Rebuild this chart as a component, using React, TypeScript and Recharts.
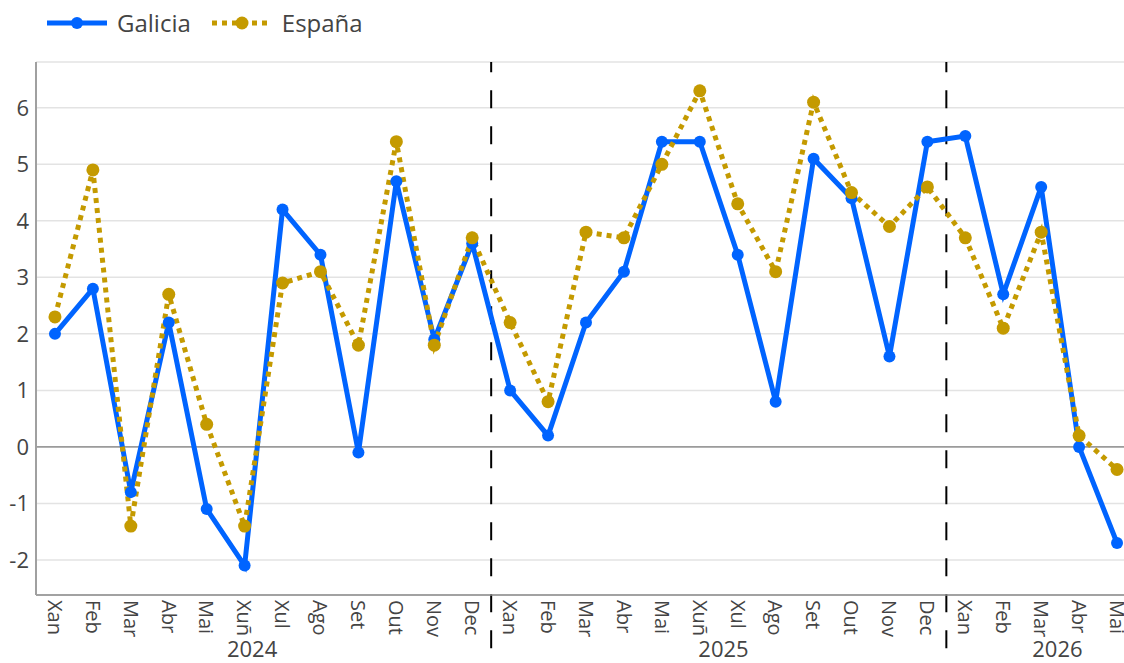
import React from 'react';
import { LineChart, Line, XAxis, YAxis, CartesianGrid, ReferenceLine, Legend } from 'recharts';

const months = ['Xan', 'Feb', 'Mar', 'Abr', 'Mai', 'Xuñ', 'Xul', 'Ago', 'Set', 'Out', 'Nov', 'Dec'];
const years = ['2024', '2025', '2026'];
const monthsPerYear = [12, 12, 5];

const galicia = [
  2.0, 2.8, -0.8, 2.2, -1.1, -2.1, 4.2, 3.4, -0.1, 4.7, 1.9, 3.6,
  1.0, 0.2, 2.2, 3.1, 5.4, 5.4, 3.4, 0.8, 5.1, 4.4, 1.6, 5.4,
  5.5, 2.7, 4.6, 0.0, -1.7,
];
const espana = [
  2.3, 4.9, -1.4, 2.7, 0.4, -1.4, 2.9, 3.1, 1.8, 5.4, 1.8, 3.7,
  2.2, 0.8, 3.8, 3.7, 5.0, 6.3, 4.3, 3.1, 6.1, 4.5, 3.9, 4.6,
  3.7, 2.1, 3.8, 0.2, -0.4,
];
const yTicks = [-2, -1, 0, 1, 2, 3, 4, 5, 6];
const seriesOrder = ['galicia', 'espana'];

const BLUE = '#0064ff';
const GOLD = '#c49a00';
const TEXT = '#444444';
const FONT = '"Open Sans", sans-serif';

// derived layout helpers
const monthLabels: string[] = [];
const yearStarts: number[] = [];
monthsPerYear.forEach((n) => {
  yearStarts.push(monthLabels.length);
  for (let k = 0; k < n; k++) monthLabels.push(months[k]);
});
const N = monthLabels.length;
const indices = monthLabels.map((_, i) => i);
const yearCenters = yearStarts.map((s, k) => s + (monthsPerYear[k] - 1) / 2);
const yearSeparators = yearStarts.slice(1).map((s) => s - 0.5);
const boundaries = indices.slice(1).map((i) => i - 0.5);
const gridBoundaries = [-0.5, ...boundaries, N - 0.5];

const data = indices.map((i) => ({ i, month: monthLabels[i], galicia: galicia[i], espana: espana[i] }));

const X_DOMAIN: [number, number] = [-0.5, N - 0.5];
const Y_DOMAIN: [number, number] = [-2.62, 6.81];

const MonthTick = (props: any) => {
  const { x, y, payload } = props;
  return (
    <text
      transform={`translate(${x},${y}) rotate(90)`}
      dy="0.36em"
      textAnchor="start"
      fontSize={20}
      fill={TEXT}
      fontFamily={FONT}
    >
      {monthLabels[payload.value]}
    </text>
  );
};

const yearFormatter = (v: number) => {
  const k = yearCenters.indexOf(v);
  return k >= 0 ? years[k] : '';
};

const LegendContent = (props: any) => {
  const payload = [...(props.payload || [])].sort(
    (a: any, b: any) => seriesOrder.indexOf(a.dataKey) - seriesOrder.indexOf(b.dataKey)
  );
  return (
    <div style={{ height: 62, fontFamily: FONT }}>
      <div style={{ display: 'flex', alignItems: 'center', height: 46, paddingLeft: 47 }}>
        {payload.map((entry: any, idx: number) => {
          const dotted = entry.dataKey === 'espana';
          return (
            <div key={idx} style={{ display: 'flex', alignItems: 'center', marginRight: 21 }}>
              <svg width={60} height={20} style={{ display: 'block' }}>
                <line
                  x1={0}
                  x2={60}
                  y1={10}
                  y2={10}
                  stroke={entry.color}
                  strokeWidth={5}
                  strokeDasharray={dotted ? '5 5' : undefined}
                />
                <circle cx={30} cy={10} r={dotted ? 6.5 : 6} fill={entry.color} />
              </svg>
              <span style={{ marginLeft: 10, fontSize: 24, color: TEXT, lineHeight: '46px' }}>{entry.value}</span>
            </div>
          );
        })}
      </div>
    </div>
  );
};

export default function App() {
  return (
    <div style={{ position: 'absolute', left: 0, top: 0, width: 1124, height: 663, overflow: 'hidden', background: '#fff' }}>
      <LineChart
        width={1136}
        height={663}
        data={data}
        margin={{ top: 0, right: 0, bottom: 0, left: 0 }}
        style={{ fontFamily: FONT }}
      >
        <Legend verticalAlign="top" align="left" itemSorter={null as any} content={<LegendContent />} />
        <CartesianGrid horizontal={true} vertical={false} stroke="#e3e3e3" strokeWidth={1.5} xAxisId="main" />
        <CartesianGrid
          horizontal={false}
          vertical={true}
          stroke="#f0f0f0"
          strokeWidth={1}
          xAxisId="bound"
        />
        <XAxis
          xAxisId="main"
          type="number"
          dataKey="i"
          domain={X_DOMAIN}
          allowDataOverflow
          ticks={indices}
          interval={0}
          tickLine={false}
          tickSize={0}
          tickMargin={5}
          height={45}
          axisLine={{ stroke: '#8a8a8a', strokeWidth: 1.5 }}
          tick={<MonthTick />}
        />
        <XAxis
          xAxisId="year"
          type="number"
          domain={X_DOMAIN}
          allowDataOverflow
          ticks={yearCenters}
          interval={0}
          tickFormatter={yearFormatter}
          tickLine={false}
          axisLine={false}
          tickSize={0}
          tickMargin={1}
          height={23}
          tick={{ fontSize: 22, fill: TEXT, fontFamily: FONT }}
        />
        <XAxis
          xAxisId="bound"
          type="number"
          domain={X_DOMAIN}
          allowDataOverflow
          ticks={gridBoundaries}
          interval={0}
          mirror
          height={0}
          tick={false}
          tickSize={8}
          tickLine={{ stroke: '#aaaaaa', strokeWidth: 1 }}
          axisLine={false}
        />
        <YAxis
          type="number"
          domain={Y_DOMAIN}
          allowDataOverflow
          ticks={yTicks}
          interval={0}
          width={36}
          tickLine={false}
          tickSize={0}
          tickMargin={7}
          axisLine={{ stroke: '#a0a0a0', strokeWidth: 2 }}
          tick={{ fontSize: 22, fill: TEXT, fontFamily: FONT }}
        />
        <ReferenceLine xAxisId="main" y={0} stroke="#666666" strokeWidth={1} />
        {yearSeparators.map((b) => (
          <ReferenceLine
            key={b}
            xAxisId="main"
            segment={[
              { x: b, y: -3.56 },
              { x: b, y: Y_DOMAIN[1] },
            ]}
            ifOverflow="visible"
            stroke="#000000"
            strokeWidth={2}
            strokeDasharray="18 18"
          />
        ))}
        <Line
          xAxisId="main"
          type="linear"
          dataKey="galicia"
          name="Galicia"
          stroke={BLUE}
          strokeWidth={5}
          dot={{ r: 6, fill: BLUE, stroke: BLUE, strokeWidth: 0 }}
          activeDot={false}
          isAnimationActive={false}
          legendType="line"
        />
        <Line
          xAxisId="main"
          type="linear"
          dataKey="espana"
          name="España"
          stroke={GOLD}
          strokeWidth={5}
          strokeDasharray="5 5"
          dot={{ r: 6.5, fill: GOLD, stroke: GOLD, strokeWidth: 0, strokeDasharray: '' }}
          activeDot={false}
          isAnimationActive={false}
          legendType="line"
        />
      </LineChart>
    </div>
  );
}
